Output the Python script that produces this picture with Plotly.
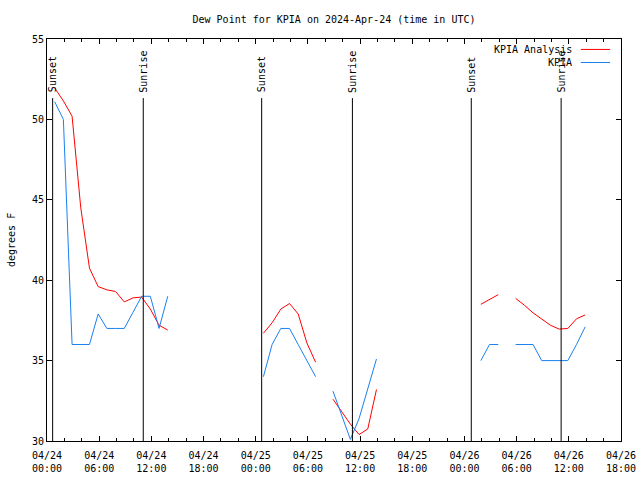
import plotly.graph_objects as go

# ---------------- data ----------------
# observation times (hourly at hh:53 UTC), split into contiguous segments
times_seg1 = [f"2024-04-24 {h:02d}:53" for h in range(0, 14)]
times_seg2 = [f"2024-04-25 {h:02d}:53" for h in range(0, 7)]
times_seg3 = [f"2024-04-25 {h:02d}:53" for h in range(8, 14)]
times_seg4 = [f"2024-04-26 {h:02d}:53" for h in range(1, 4)]
times_seg5 = [f"2024-04-26 {h:02d}:53" for h in range(5, 14)]

# KPIA Analysis (red)
analysis_seg1 = [51.95, 51.15, 50.2, 44.5, 40.75, 39.6, 39.4, 39.3, 38.65, 38.9, 38.95, 38.2, 37.2, 36.9]
analysis_seg2 = [36.7, 37.35, 38.2, 38.55, 37.9, 36.1, 34.9]
analysis_seg3 = [32.6, 31.8, 31.05, 30.4, 30.75, 33.2]
analysis_seg4 = [38.5, 38.8, 39.1]
analysis_seg5 = [38.87, 38.45, 37.97, 37.57, 37.2, 36.96, 37.0, 37.6, 37.84]

# KPIA observations (blue)
obs_seg1 = [51.1, 50.0, 36.0, 36.0, 36.0, 37.9, 37.0, 37.0, 37.0, 38.0, 39.0, 39.0, 37.0, 39.0]
obs_seg2 = [34.0, 36.0, 37.0, 37.0, 36.0, 35.0, 34.0]
obs_seg3 = [33.1, 31.6, 30.1, 31.4, 33.3, 35.1]
obs_seg4 = [35.0, 36.0, 36.0]
obs_seg5 = [36.0, 36.0, 36.0, 35.0, 35.0, 35.0, 35.0, 36.0, 37.1]

# sunset / sunrise events
sun_times = ["2024-04-24 00:39", "2024-04-24 11:04", "2024-04-25 00:41",
             "2024-04-25 11:07", "2024-04-26 00:47", "2024-04-26 11:07"]
sun_labels = ["Sunset", "Sunrise", "Sunset", "Sunrise", "Sunset", "Sunrise"]

x_range = ["2024-04-24 00:00", "2024-04-26 18:00"]
y_range = [30, 55]

title_text = "Dew Point for KPIA on 2024-Apr-24 (time in UTC)"
y_title = "degrees F"
series_names = ["KPIA Analysis", "KPIA"]
series_colors = ["#ff0000", "#1a80f0"]


def join(time_segs, val_segs):
    xs, ys = [], []
    for i, (t, v) in enumerate(zip(time_segs, val_segs)):
        if i:
            xs.append(None)
            ys.append(None)
        xs += t
        ys += v
    return xs, ys


tsegs = [times_seg1, times_seg2, times_seg3, times_seg4, times_seg5]
xa, ya = join(tsegs, [analysis_seg1, analysis_seg2, analysis_seg3, analysis_seg4, analysis_seg5])
xo, yo = join(tsegs, [obs_seg1, obs_seg2, obs_seg3, obs_seg4, obs_seg5])

FONT = "DejaVu Sans Mono"

fig = go.Figure()
fig.add_trace(go.Scatter(x=xa, y=ya, mode="lines", name=series_names[0],
                         line=dict(color=series_colors[0], width=1), hoverinfo="skip"))
fig.add_trace(go.Scatter(x=xo, y=yo, mode="lines", name=series_names[1],
                         line=dict(color=series_colors[1], width=1), hoverinfo="skip"))

shapes = []
annotations = []
for t, lab in zip(sun_times, sun_labels):
    shapes.append(dict(type="line", xref="x", yref="paper", x0=t, x1=t, y0=0, y1=0.853,
                       line=dict(color="black", width=1)))
    annotations.append(dict(text=lab, x=t, xref="x", y=0.862, yref="paper",
                            textangle=-90, xanchor="center", yanchor="bottom",
                            showarrow=False, font=dict(family=FONT, size=10, color="black")))

# gnuplot-style legend (text right-aligned, sample line on the right)
leg_y = [0.974, 0.9415]
for name, col, yy in zip(series_names, series_colors, leg_y):
    annotations.append(dict(text=name, x=0.918, xref="paper", y=yy, yref="paper",
                            xanchor="right", yanchor="middle", showarrow=False,
                            font=dict(family=FONT, size=10, color="black")))
    shapes.append(dict(type="line", xref="paper", yref="paper", x0=0.930, x1=0.981,
                       y0=yy, y1=yy, line=dict(color=col, width=1)))

# y-axis title
annotations.append(dict(text=y_title, x=-(47 - 11) / 574, xref="paper", y=0.5, yref="paper",
                        textangle=-90, xanchor="center", yanchor="middle", showarrow=False,
                        font=dict(family=FONT, size=10, color="black")))

fig.update_layout(
    width=640, height=480,
    margin=dict(l=47, r=19, t=39, b=39),
    paper_bgcolor="white", plot_bgcolor="white",
    showlegend=False,
    font=dict(family=FONT, size=10, color="black"),
    title=dict(text=title_text, x=0.5, xref="paper", xanchor="center",
               y=1 - 19 / 480, yref="container", yanchor="middle",
               font=dict(family=FONT, size=10, color="black")),
    shapes=shapes, annotations=annotations,
    xaxis=dict(type="date", range=x_range, tick0="2024-04-24 00:00", dtick=6 * 3600000,
               tickformat="%m/%d<br>%H:%M", ticks="inside", ticklen=5, tickcolor="black",
               ticklabelstandoff=5,
               showline=True, linecolor="black", linewidth=1, mirror="allticks",
               showgrid=False, zeroline=False, automargin=False,
               minor=dict(dtick=2 * 3600000, ticks="inside", ticklen=3, tickcolor="black",
                          showgrid=False),
               tickfont=dict(family=FONT, size=10, color="black")),
    yaxis=dict(range=y_range, dtick=5, ticks="inside", ticklen=5, tickcolor="black",
               showline=True, linecolor="black", linewidth=1, mirror="allticks",
               showgrid=False, zeroline=False, automargin=False,
               tickfont=dict(family=FONT, size=10, color="black")),
)

fig.write_html("out.html", config={"displayModeBar": False},
               post_script="document.body.style.margin='0';document.body.style.padding='0';")
